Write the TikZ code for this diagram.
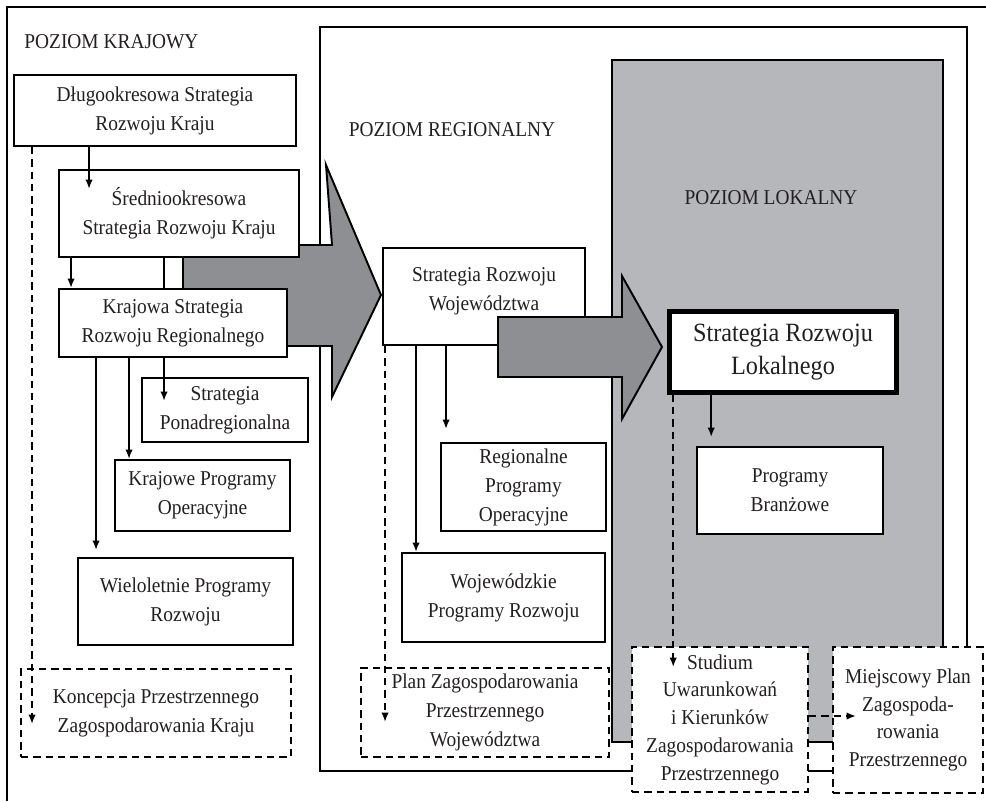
\documentclass[tikz,border=0pt]{standalone}
\usepackage{fontspec}
\setmainfont{Liberation Serif}[FakeStretch=0.92]
\usetikzlibrary{arrows.meta}

\definecolor{arrowgray}{HTML}{8E8F93}
\definecolor{localgray}{HTML}{B6B7BB}
\definecolor{ink}{HTML}{231F20}

\begin{document}
\begin{tikzpicture}[
    box/.style={draw, fill=white, line width=1.1pt, inner sep=0pt, align=center,
        text=ink, font=\fontsize{12}{16.5}\selectfont},
    dbox/.style={box, dash pattern=on 4.2pt off 2.8pt},
    arr/.style={-{Latex[length=1.9mm,width=1.5mm]}, line width=1.2pt},
    darr/.style={arr, dash pattern=on 4.2pt off 2.8pt},
    lvl/.style={text=ink, inner sep=0pt, font=\fontsize{12}{14}\selectfont}
]
    \useasboundingbox (0,0) rectangle (19.72,-16.02);

    % poziomy
    \draw[line width=1.2pt] (19.72,-0.14) -- (0.14,-0.14) -- (0.14,-16.02);
    \draw[line width=1.2pt, fill=white] (6.40,-0.54) rectangle (19.34,-15.42);
    \draw[line width=1.2pt, fill=localgray] (12.24,-1.20) rectangle (18.86,-14.84);

    \node[lvl, anchor=west] (krajowy) at (0.48,-0.84) {POZIOM KRAJOWY};
    \node[lvl] (regionalny) at (9.04,-2.60) {POZIOM REGIONALNY};
    \node[lvl] (lokalny) at (15.42,-3.96) {POZIOM LOKALNY};

    % duza strzalka: kraj -> region
    \draw[line width=1.1pt, fill=arrowgray] (3.66,-4.90) -- (6.64,-4.90) -- (6.52,-3.30)
        -- (7.62,-5.90) -- (6.64,-7.94) -- (6.64,-6.92) -- (3.66,-6.92) -- cycle;

    % poziom krajowy
    \node[box, minimum width=5.64cm, minimum height=1.42cm] (dlugo) at (3.10,-2.21)
        {Długookresowa Strategia\\Rozwoju Kraju};
    \node[box, minimum width=4.80cm, minimum height=1.74cm] (srednio) at (3.58,-4.27)
        {Średniookresowa\\Strategia Rozwoju Kraju};
    \node[box, minimum width=4.56cm, minimum height=1.36cm] (krsrr) at (3.46,-6.46)
        {Krajowa Strategia\\Rozwoju Regionalnego};
    \node[box, minimum width=3.32cm, minimum height=1.28cm] (ponad) at (4.50,-8.20)
        {Strategia\\Ponadregionalna};
    \node[box, minimum width=3.50cm, minimum height=1.42cm] (krpo) at (4.05,-9.91)
        {Krajowe Programy\\Operacyjne};
    \node[box, minimum width=4.30cm, minimum height=1.74cm] (wielo) at (3.71,-12.03)
        {Wieloletnie Programy\\Rozwoju};
    \node[dbox, minimum width=5.40cm, minimum height=1.76cm] (kpzk) at (3.12,-14.26)
        {Koncepcja Przestrzennego\\Zagospodarowania Kraju};

    % poziom regionalny
    \node[box, minimum width=4.04cm, minimum height=1.94cm, text depth=0.3cm] (srw) at (9.68,-5.93)
        {Strategia Rozwoju\\Województwa};

    % duza strzalka: region -> lokal
    \draw[line width=1.1pt, fill=arrowgray] (9.96,-6.34) -- (12.44,-6.34) -- (12.44,-5.52)
        -- (13.24,-6.94) -- (12.44,-8.38) -- (12.44,-7.54) -- (9.96,-7.54) -- cycle;

    \node[box, minimum width=3.30cm, minimum height=1.76cm] (rpo) at (10.47,-9.74)
        {Regionalne\\Programy\\Operacyjne};
    \node[box, minimum width=4.06cm, minimum height=1.78cm] (wpr) at (10.07,-11.95)
        {Wojewódzkie\\Programy Rozwoju};
    \node[dbox, minimum width=4.96cm, minimum height=1.78cm] (pzpw) at (9.70,-14.25)
        {Plan Zagospodarowania\\Przestrzennego\\Województwa};

    % poziom lokalny
    \node[box, line width=2.6pt, minimum width=4.54cm, minimum height=1.62cm,
        font=\fontsize{15}{18.5}\selectfont] (srl) at (15.66,-7.04)
        {Strategia Rozwoju\\Lokalnego};
    \node[box, minimum width=3.72cm, minimum height=1.74cm] (branz) at (15.80,-9.81)
        {Programy\\Branżowe};
    \node[dbox, minimum width=3.52cm, minimum height=2.90cm,
        font=\fontsize{12}{15.8}\selectfont] (suikzp) at (14.40,-14.39)
        {Studium\\Uwarunkowań\\i Kierunków\\Zagospodarowania\\Przestrzennego};
    \node[dbox, minimum width=3.00cm, minimum height=2.92cm,
        font=\fontsize{12}{15.8}\selectfont] (mpzp) at (18.16,-14.40)
        {Miejscowy Plan\\Zagospoda-\\rowania\\Przestrzennego};

    % powiazania
    \draw[arr, shorten >=-0.40cm] ([xshift=1.52cm]dlugo.south west) coordinate (a1) -- (a1 |- srednio.north);
    \draw[darr, shorten >=-1.12cm] ([xshift=0.38cm]dlugo.south west) coordinate (a2) -- (a2 |- kpzk.north);
    \draw[arr] ([xshift=0.26cm]srednio.south west) coordinate (a3) -- (a3 |- krsrr.north);
    \draw[line width=1.2pt] ([xshift=2.12cm]srednio.south west) coordinate (a4) -- (a4 |- krsrr.north);
    \draw[arr, shorten >=-0.48cm] ([xshift=2.12cm]krsrr.south west) coordinate (a5) -- (a5 |- ponad.north);
    \draw[arr] ([xshift=1.42cm]krsrr.south west) coordinate (a6) -- (a6 |- krpo.north);
    \draw[arr, shorten >=0.14cm] ([xshift=0.76cm]krsrr.south west) coordinate (a7) -- (a7 |- wielo.north);

    \draw[arr, shorten >=0.26cm] ([xshift=1.28cm]srw.south west) coordinate (b1) -- (b1 |- rpo.north);
    \draw[arr] ([xshift=0.68cm]srw.south west) coordinate (b2) -- (b2 |- wpr.north);
    \draw[darr, shorten >=-1.10cm] ([xshift=0.06cm]srw.south west) coordinate (b3) -- (b3 |- pzpw.north);

    \draw[arr, shorten >=0.18cm] ([xshift=0.88cm]srl.south west) coordinate (c1) -- (c1 |- branz.north);
    \draw[darr, shorten >=-0.42cm] ([xshift=0.12cm]srl.south west) coordinate (c2) -- (c2 |- suikzp.north);
    \draw[darr, shorten >=-0.48cm] ([yshift=0.07cm]suikzp.east) coordinate (c3) -- (c3 -| mpzp.west);

\end{tikzpicture}
\end{document}
